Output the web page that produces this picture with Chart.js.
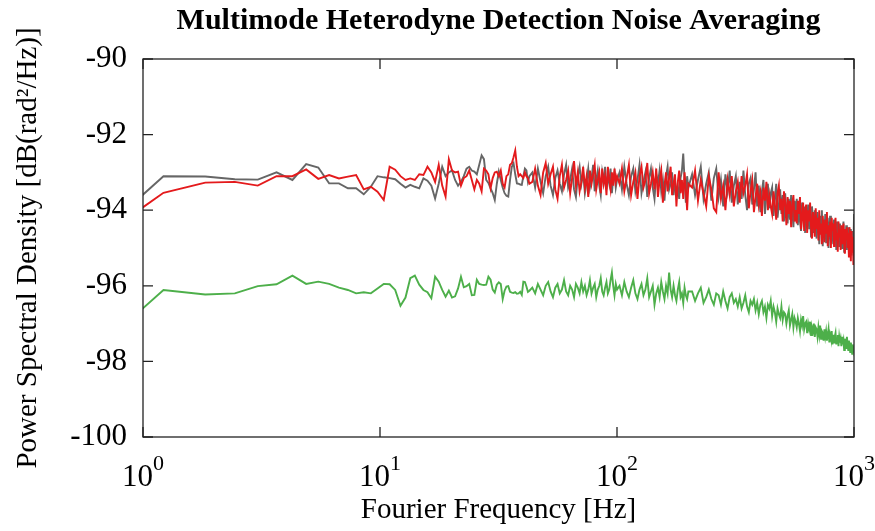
<!DOCTYPE html>
<html><head><meta charset="utf-8">
<script src="https://cdn.jsdelivr.net/npm/chart.js@4.4.0/dist/chart.umd.min.js"></script>
<style>html,body{margin:0;padding:0;background:#fff}</style>
</head><body>
<canvas id="c" width="875" height="531"></canvas>
<script>
const binWidthHz = 0.61;
const binSegments = [[1,70,1],[72,164,2],[168,328,4],[340,1640,10]];
const xTickValues = [1,10,100,1000];
const yTickValues = [-100,-98,-96,-94,-92,-90];

// Gray trace
const grayA = [-94.8,-93.10,-93.11,-93.18,-93.19,-93.00,-93.20,-92.78,-92.87,-93.29,
-93.29,-93.42,-93.42,-93.58,-93.38,-93.10,-93.13,-93.15,-93.18,-93.30,
-93.40,-93.33,-93.38,-93.42,-93.16,-93.22,-93.35,-93.69,-93.30,-92.85,
-93.10,-93.00,-92.95,-93.20,-93.35,-93.25,-93.10,-92.90,-92.85,-92.95,
-92.98,-93.05,-92.80,-92.55,-92.65,-93.20,-93.28,-93.42,-93.55,-93.73,
-93.30,-92.98,-93.20,-93.40,-93.55,-93.62,-93.64,-93.20,-92.85,-92.76,
-93.05,-93.29,-93.30,-93.32,-93.33,-93.10,-92.90,-92.95,-93.25,-93.10];
const grayB = [-93.0,-93.4,-92.9,-93.25,-93.55,-93.1,-92.85,-93.35,-93.6,-93.15,
-92.95,-93.3,-93.5,-93.05,-92.8,-93.4,-93.2,-92.9,-93.45,-93.65,
-93.1,-92.85,-93.3,-93.0,-93.55,-93.25,-92.9,-93.4,-93.15,-92.8,
-93.5,-93.2,-92.95,-93.35,-93.6,-93.0,-93.25,-92.85,-93.45,-93.1,
-93.3,-92.9,-93.55,-93.15,-93.0,-93.4,-93.2];
const grayC = [-93.0,-93.45,-92.85,-93.3,-93.6,-93.1,-92.9,-93.5,-93.2,-92.8,
-93.55,-93.25,-93.0,-93.65,-93.15,-92.9,-93.4,-93.7,-93.05,-93.3,
-92.95,-93.5,-93.2,-93.75,-93.1,-92.85,-93.45,-93.3,-93.0,-93.6,
-93.25,-93.55,-93.35,-93.7,-93.15,-92.95,-92.5,-93.2,-93.8,-93.1,-93.4];
const grayD = [-93.05,-93.6,-93.2,-92.85,-93.7,-93.3,-93.0,-93.75,-93.15,-92.9,
-93.65,-93.2,-93.9,-93.05,-93.5,-92.95,-93.8,-93.35,-93.1,-93.85,
-93.25,-93.7,-92.95,-93.6,-94.0,-93.3,-93.15,-93.85,-93.45,-93.0,
-93.9,-93.35,-94.05,-93.5,-93.2,-94.1,-93.6,-93.3,-93.95,-93.55,
-93.4,-94.15,-93.7,-93.3,-94.2,-93.85,-93.45,-94.1,-93.6,-94.3,
-93.55,-94.05,-94.35,-93.7,-94.25,-93.6,-94.0,-94.45,-93.75,-94.15,
-93.7,-94.4,-93.85,-94.3,-94.55,-93.8,-94.2,-93.9,-94.6,-94.0,
-94.35,-93.85,-94.5,-94.1,-94.7,-93.9,-94.3,-94.6,-94.0,-94.45,
-94.75,-94.05,-94.4,-94.9,-94.15,-94.55,-94.0,-94.95,-94.3,-94.6,
-94.1,-94.85,-94.45,-94.2,-95.0,-94.5,-94.15,-94.8,-94.35,-94.65,
-94.9,-94.25,-94.7,-94.4,-95.05,-94.3,-94.75,-94.5,-94.95,-94.35,
-94.8,-94.45,-95.0,-94.6,-94.3,-95.1,-94.55,-94.85,-94.4,-95.05,
-94.6,-94.95,-94.45,-95.1,-94.7,-94.5,-95.2,-94.75,-94.55,-95.0,-94.1];

// Red trace
const redA = [-94.87,-93.54,-93.27,-93.25,-93.35,-93.10,-93.10,-92.92,-93.17,-93.07,
-93.16,-93.11,-93.07,-93.45,-93.38,-93.51,-93.73,-92.85,-92.93,-93.10,
-93.20,-93.16,-93.20,-93.05,-93.07,-92.85,-93.00,-93.25,-92.80,-93.35,
-93.64,-92.65,-92.95,-93.00,-92.98,-93.35,-93.15,-93.10,-92.95,-93.20,
-93.45,-93.20,-93.30,-93.50,-92.90,-92.95,-93.05,-93.42,-93.15,-93.00,
-92.98,-93.10,-92.95,-93.30,-93.40,-93.10,-93.05,-92.80,-92.76,-92.60,
-92.42,-92.85,-93.10,-93.05,-93.10,-93.15,-93.00,-93.10,-93.15,-93.30];
const redB = [-93.25,-92.9,-93.35,-93.6,-93.0,-92.75,-93.3,-93.05,-92.85,-93.45,
-93.7,-93.1,-92.8,-93.4,-93.2,-92.95,-93.55,-93.15,-92.7,-93.35,
-93.0,-93.5,-93.25,-92.85,-93.4,-93.1,-93.65,-92.95,-93.3,-93.05,
-92.8,-93.45,-93.2,-93.0,-93.55,-92.9,-93.3,-93.1,-93.6,-92.85,
-93.2,-93.45,-93.0,-93.35,-92.9,-93.25,-93.1];
const redC = [-93.3,-92.9,-93.5,-93.15,-92.8,-93.6,-93.25,-93.0,-93.7,-93.1,
-92.85,-93.4,-93.2,-92.75,-93.55,-93.3,-93.0,-93.45,-92.9,-93.65,
-93.2,-92.95,-93.8,-93.35,-93.0,-93.5,-93.15,-92.85,-93.6,-93.3,
-93.05,-93.9,-93.25,-92.95,-93.55,-93.2,-93.7,-93.0,-93.45,-94.0,-93.3];
const redD = [-93.4,-92.95,-93.75,-93.2,-93.55,-93.9,-93.1,-93.45,-93.95,-94.05,
-93.0,-93.7,-93.35,-94.0,-93.2,-93.6,-93.1,-93.9,-93.5,-93.25,
-93.8,-93.1,-93.55,-93.35,-93.05,-93.95,-93.5,-93.2,-94.05,-93.65,
-93.3,-93.85,-93.55,-94.15,-93.4,-93.75,-93.25,-94.0,-93.6,-93.9,
-94.1,-93.5,-93.85,-94.25,-93.55,-93.35,-94.0,-93.7,-94.3,-93.5,
-93.8,-94.4,-93.65,-94.1,-93.75,-94.45,-93.85,-93.6,-94.3,-94.0,
-94.35,-93.75,-94.1,-93.65,-94.5,-94.2,-93.8,-94.55,-94.05,-93.85,
-94.6,-94.0,-94.3,-93.8,-94.45,-94.75,-94.05,-94.25,-94.7,-93.95,
-94.5,-94.2,-94.8,-94.0,-94.65,-94.35,-94.9,-94.15,-94.5,-94.85,
-94.25,-94.6,-94.05,-94.95,-94.4,-94.7,-94.3,-95.0,-94.2,-94.55,
-94.35,-94.95,-94.45,-94.2,-94.8,-94.6,-95.1,-94.3,-94.7,-94.5,
-95.05,-94.4,-94.7,-94.9,-94.35,-94.85,-95.15,-94.5,-94.75,-94.45,
-95.0,-94.6,-95.25,-94.45,-94.85,-95.35,-94.55,-95.1,-94.7,-95.45,-94.9];

// Green trace
const greenA = [-97.8,-96.11,-96.23,-96.20,-96.01,-95.96,-95.73,-95.95,-95.89,-95.95,
-96.05,-96.11,-96.20,-96.17,-96.20,-96.07,-95.95,-95.96,-96.11,-96.53,
-96.31,-95.80,-95.73,-95.97,-96.11,-96.17,-96.33,-95.76,-95.89,-96.11,
-96.29,-96.13,-96.31,-96.28,-96.07,-95.76,-96.04,-96.01,-95.95,-96.25,
-96.24,-95.84,-95.95,-95.97,-95.98,-95.97,-95.76,-95.84,-96.10,-96.18,
-95.97,-95.91,-95.95,-96.35,-96.13,-96.02,-96.01,-96.16,-96.18,-96.19,
-96.17,-96.21,-96.20,-96.16,-96.24,-95.89,-95.90,-96.02,-96.16,-96.13];
const greenB = [-96.05,-96.2,-95.95,-96.1,-96.25,-96.0,-95.9,-96.15,-96.3,-96.05,
-95.95,-96.2,-96.1,-95.85,-96.15,-96.25,-96.0,-96.1,-96.3,-95.95,
-96.05,-96.2,-95.9,-96.15,-96.0,-96.25,-96.1,-95.85,-96.2,-96.05,
-95.95,-96.3,-96.1,-96.0,-95.8,-96.15,-96.25,-96.05,-95.9,-96.2,
-96.1,-95.85,-95.65,-96.0,-96.25,-95.95,-96.1];
const greenC = [-96.0,-96.25,-95.9,-96.15,-96.3,-96.05,-95.85,-96.2,-96.35,-96.1,
-95.95,-96.25,-96.1,-95.8,-96.3,-96.15,-96.0,-96.5,-96.2,-96.05,
-96.3,-95.9,-96.15,-96.35,-96.0,-96.2,-95.65,-96.1,-96.3,-96.0,
-96.25,-96.4,-96.1,-95.9,-96.3,-96.2,-96.45,-96.05,-96.25,-96.35,-96.15];
const greenD = [-96.15,-96.4,-96.2,-96.05,-96.45,-96.3,-96.1,-96.35,-96.5,-96.2,
-96.25,-96.5,-96.15,-96.4,-96.6,-96.3,-96.2,-96.45,-96.35,-96.55,
-96.3,-96.6,-96.45,-96.25,-96.55,-96.7,-96.4,-96.5,-96.35,-96.65,
-96.45,-96.75,-96.5,-96.4,-96.7,-96.55,-96.85,-96.5,-96.6,-96.4,
-96.8,-96.55,-96.7,-96.95,-96.6,-96.75,-96.85,-96.55,-96.9,-96.7,
-96.75,-97.0,-96.8,-96.65,-97.05,-96.9,-96.75,-97.1,-96.85,-96.95,
-97.1,-96.85,-97.0,-97.2,-96.9,-97.05,-96.8,-97.15,-97.0,-96.95,
-97.25,-97.0,-97.15,-96.95,-97.3,-97.1,-97.2,-97.0,-97.35,-97.1,
-97.15,-97.35,-97.1,-97.3,-97.05,-97.4,-97.2,-97.25,-97.45,-97.15,
-97.35,-97.2,-97.45,-97.3,-97.15,-97.5,-97.3,-97.4,-97.2,-97.55,
-97.3,-97.5,-97.35,-97.25,-97.55,-97.4,-97.3,-97.6,-97.35,-97.5,
-97.4,-97.6,-97.35,-97.55,-97.45,-97.7,-97.4,-97.5,-97.65,-97.35,
-97.55,-97.7,-97.45,-97.6,-97.75,-97.5,-97.65,-97.8,-97.55,-97.7,-97.6];

// ---- build ----
const bins = [];
binSegments.forEach(([a,b,s]) => { for (let k=a; k<=b; k+=s) bins.push(k); });
const freqs = bins.map(k => +(k*binWidthHz).toFixed(3));
const grayVals = grayA.concat(grayB, grayC, grayD);
const redVals = redA.concat(redB, redC, redD);
const greenVals = greenA.concat(greenB, greenC, greenD);
const pts = vals => freqs.map((f,i) => ({x:f, y:vals[i]}));

const serif = 'Liberation Serif';
const PLOT = {left:143, right:854, top:59, bottom:437};

const framePlugin = {
  id:'frame',
  afterDatasetsDraw(chart){
    const {ctx, chartArea:a} = chart;
    const xs = chart.scales.x, ys = chart.scales.y;
    ctx.save();
    ctx.strokeStyle = '#222';
    ctx.lineWidth = 1.3;
    ctx.strokeRect(a.left, a.top, a.right-a.left, a.bottom-a.top);
    ctx.beginPath();
    yTickValues.forEach(v => {
      const y = ys.getPixelForValue(v);
      ctx.moveTo(a.left, y); ctx.lineTo(a.left+10, y);
      ctx.moveTo(a.right, y); ctx.lineTo(a.right-10, y);
    });
    xTickValues.forEach(v => {
      const x = xs.getPixelForValue(v);
      ctx.moveTo(x, a.bottom); ctx.lineTo(x, a.bottom-10);
      ctx.moveTo(x, a.top); ctx.lineTo(x, a.top+10);
    });
    ctx.stroke();
    // x tick labels 10^n
    ctx.fillStyle = '#000';
    ctx.textBaseline = 'alphabetic';
    ctx.textAlign = 'left';
    xTickValues.forEach(v => {
      const x = xs.getPixelForValue(v);
      const e = String(Math.round(Math.log10(v)));
      ctx.font = '31px "' + serif + '"';
      const wb = ctx.measureText('10').width;
      ctx.font = '22px "' + serif + '"';
      const we = ctx.measureText(e).width;
      const x0 = x - (wb+we)/2;
      ctx.font = '31px "' + serif + '"';
      ctx.fillText('10', x0, 486);
      ctx.font = '22px "' + serif + '"';
      ctx.fillText(e, x0+wb, 470);
    });
    ctx.restore();
  }
};

const lineStyle = {borderWidth:1.9, pointRadius:0, tension:0, fill:false, clip:0};

new Chart(document.getElementById('c'), {
  type:'line',
  data:{ datasets:[
    Object.assign({label:'red', data:pts(redVals), borderColor:'#e41a1c'}, lineStyle),
    Object.assign({label:'gray', data:pts(grayVals), borderColor:'#666666'}, lineStyle),
    Object.assign({label:'green', data:pts(greenVals), borderColor:'#4daf4a'}, lineStyle)
  ]},
  options:{
    responsive:false, animation:false, devicePixelRatio:1,
    layout:{padding:{left:0, right:875-PLOT.right, top:0, bottom:0}},
    plugins:{
      legend:{display:false}, tooltip:{enabled:false},
      title:{display:true, fullSize:false, text:'Multimode Heterodyne Detection Noise Averaging',
        color:'#000', font:{family:serif, size:30, weight:'bold', lineHeight:1.2},
        padding:{top:3, bottom:20}}
    },
    scales:{
      x:{type:'logarithmic', min:1, max:1000,
        afterBuildTicks:s => { s.ticks = xTickValues.map(v => ({value:v})); },
        ticks:{display:false}, grid:{display:false, drawTicks:false}, border:{display:false},
        title:{display:true, text:'Fourier Frequency [Hz]', color:'#000', font:{family:serif, size:29}, padding:{top:0,bottom:3}},
        afterFit:s => { s.height = 531 - PLOT.bottom; }
      },
      y:{min:-100, max:-90,
        afterBuildTicks:s => { s.ticks = yTickValues.map(v => ({value:v})); },
        ticks:{color:'#000', font:{family:serif, size:31}, padding:16},
        grid:{display:false, drawTicks:false}, border:{display:false},
        title:{display:true, text:'Power Spectral Density [dB(rad\u00B2/Hz)]', color:'#000', font:{family:serif, size:29}, padding:{top:11,bottom:0}},
        afterFit:s => { s.width = PLOT.left; }
      }
    }
  },
  plugins:[framePlugin]
});
</script>
</body></html>
